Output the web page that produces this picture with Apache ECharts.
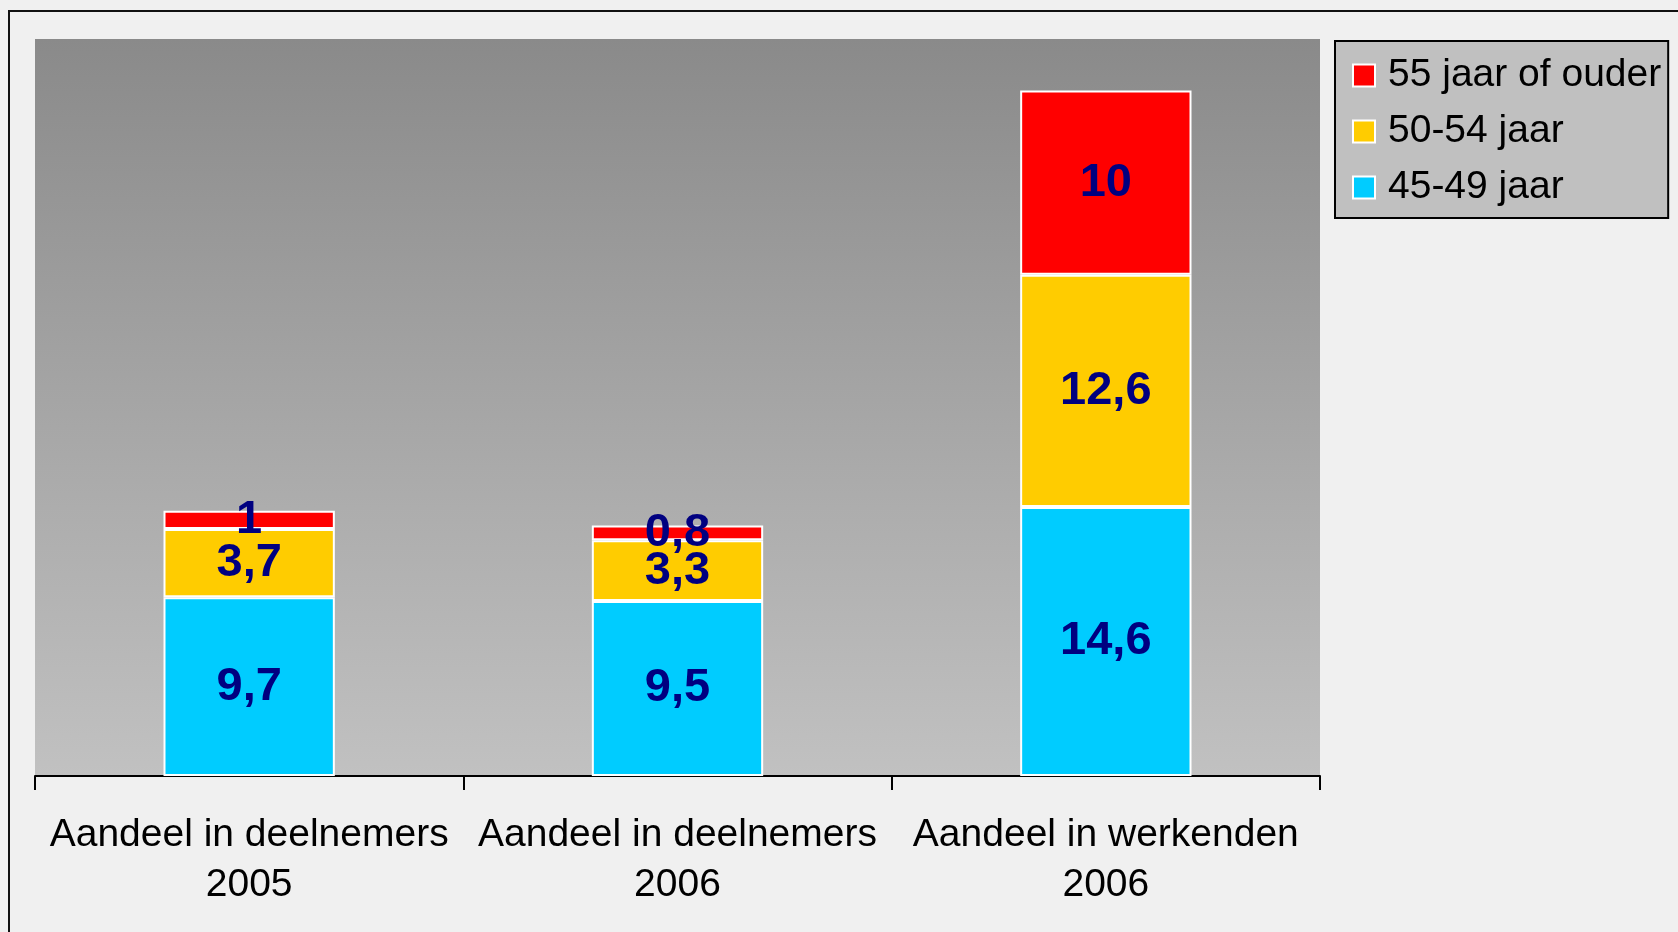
<!DOCTYPE html>
<html>
<head>
<meta charset="utf-8">
<title>Aandeel oudere deelnemers</title>
<script src="https://cdn.jsdelivr.net/npm/echarts@6/dist/echarts.min.js"></script>
<style>
  html, body { margin: 0; padding: 0; background: #f0f0f0; }
  #container { width: 1678px; height: 932px; }
</style>
</head>
<body>
<div id="container"></div>
<script type="text/javascript">
      var categories = ['Aandeel in deelnemers\n2005', 'Aandeel in deelnemers\n2006', 'Aandeel in werkenden\n2006'];
      var jaar4549 = [9.7, 9.5, 14.6];
      var jaar5054 = [3.7, 3.3, 12.6];
      var jaar55plus = [1, 0.8, 10];

      var dom = document.getElementById("container");
      var myChart = echarts.init(dom);
      var fontName = "'Liberation Sans', Arial, sans-serif";

      var label = {
          show: true,
          position: 'inside',
          color: '#000080',
          fontWeight: 'bold',
          fontSize: 47,
          fontFamily: fontName,
          formatter: function (p) { return String(p.value).replace('.', ','); }
      };
      var barStyle = function (c) {
          return { color: c, borderColor: '#ffffff', borderWidth: 2 };
      };

      var option = {
          backgroundColor: '#f0f0f0',
          animation: false,
          graphic: [
              {
                  type: 'rect',
                  shape: { x: 9, y: 11, width: 2000, height: 2000 },
                  style: { fill: 'none', stroke: '#111111', lineWidth: 2 },
                  z: -1
              }
          ],
          legend: {
              data: ['55 jaar of ouder', '50-54 jaar', '45-49 jaar'],
              orient: 'vertical',
              left: 1335,
              top: 41,
              backgroundColor: '#c0c0c0',
              borderColor: '#000000',
              borderWidth: 2,
              padding: [15, 7, 11, 17],
              itemWidth: 22,
              itemHeight: 22,
              itemGap: 17,
              icon: 'rect',
              textStyle: {
                  color: '#000000',
                  fontSize: 39,
                  lineHeight: 38,
                  fontFamily: fontName,
                  padding: [0, 0, 0, 8]
              }
          },
          grid: {
              left: 35,
              top: 39,
              width: 1285,
              height: 737,
              show: true,
              borderWidth: 0,
              backgroundColor: new echarts.graphic.LinearGradient(0, 0, 0, 1, [
                  { offset: 0, color: '#8a8a8a' },
                  { offset: 1, color: '#c1c1c1' }
              ])
          },
          xAxis: {
              type: 'category',
              data: categories,
              axisLine: { show: true, lineStyle: { color: '#000000', width: 2 } },
              axisTick: { show: true, length: 14, lineStyle: { color: '#000000', width: 2 } },
              axisLabel: {
                  color: '#000000',
                  fontSize: 39,
                  lineHeight: 50,
                  margin: 34,
                  fontFamily: fontName,
                  interval: 0
              }
          },
          yAxis: {
              type: 'value',
              min: 0,
              max: 40,
              show: false,
              splitLine: { show: false }
          },
          series: [
              {
                  name: '45-49 jaar',
                  type: 'bar',
                  stack: 'totaal',
                  barCategoryGap: '60%',
                  data: jaar4549,
                  itemStyle: barStyle('#00ccff'),
                  label: label
              },
              {
                  name: '50-54 jaar',
                  type: 'bar',
                  stack: 'totaal',
                  data: jaar5054,
                  itemStyle: barStyle('#ffcc00'),
                  label: label
              },
              {
                  name: '55 jaar of ouder',
                  type: 'bar',
                  stack: 'totaal',
                  data: jaar55plus,
                  itemStyle: barStyle('#ff0000'),
                  label: label
              }
          ]
      };

      myChart.setOption(option, true);
</script>
</body>
</html>
